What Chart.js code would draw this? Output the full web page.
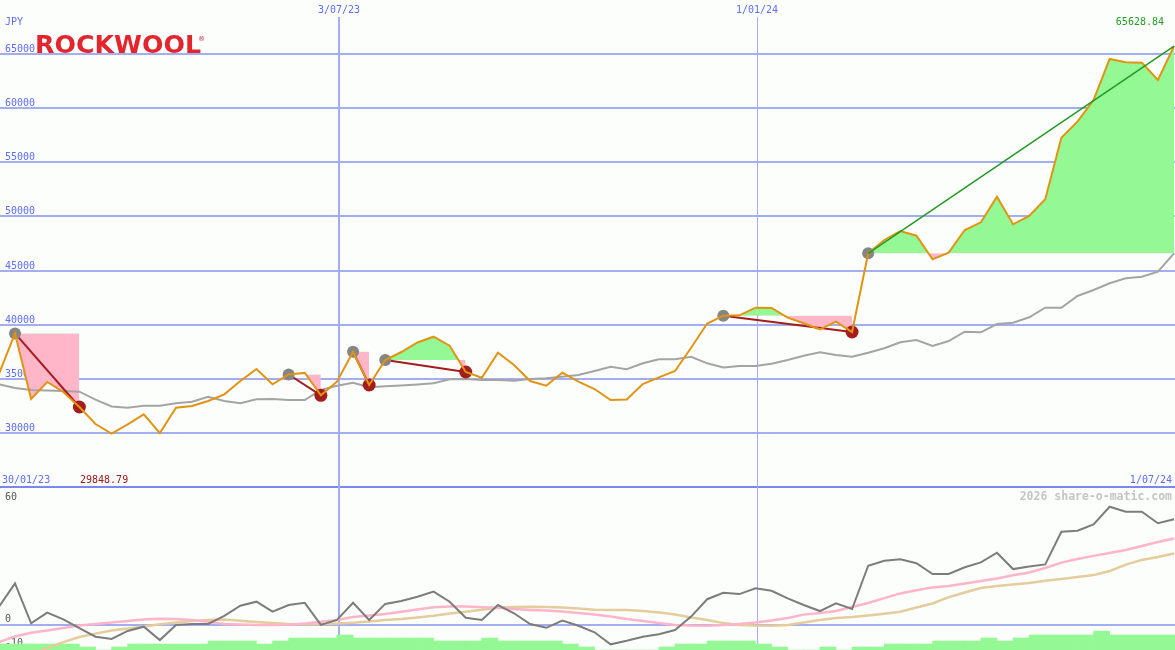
<!DOCTYPE html>
<html lang="en">
<head>
  <meta charset="UTF-8" />
  <title>ROCKWOOL weekly</title>
  <style>
    body { margin: 0; background: #fcfefc; }
    canvas { position: absolute; left: 0; background: #fcfefc; }
  </style>
</head>
<body>
  <canvas id="priceChart" width="1175" height="488" style="top:0"></canvas>
  <canvas id="oscChart" width="1175" height="162" style="top:488px"></canvas>

  <script src="https://cdn.jsdelivr.net/npm/chart.js"></script>
  <script>
    // weekly closes in JPY, week 0 = first bar
    const closes = [35352, 39100, 33043, 34613, 33690, 32304, 30734, 29848.79, 30700, 31630,
      29900, 32240, 32397, 32860, 33478, 34706, 35814, 34401, 35306, 35473,
      33385, 34641, 37412, 34336, 36646, 37384, 38262, 38797, 37966, 35537,
      35011, 37320, 36184, 34706, 34272, 35473, 34641, 33967, 32951, 32990,
      34429, 35048, 35629, 37781, 40016, 40737, 40774, 41476, 41450, 40552,
      40035, 39481, 40183, 39231, 46500, 47729, 48560, 48126, 45946, 46556,
      48652, 49364, 51728, 49179, 49945, 51488, 57177, 58655, 60659, 64446,
      64141, 64110, 62506, 65628.84];
    const average = [34401, 34059, 33875, 33828, 33782, 33718, 32979, 32351, 32240, 32424,
      32424, 32646, 32794, 33256, 32859, 32646, 33016, 33043, 32951, 32951,
      33875, 34272, 34549, 34124, 34216, 34290, 34383, 34494, 34863, 34891,
      34798, 34798, 34734, 34891, 34955, 35103, 35260, 35629, 36027, 35787,
      36341, 36710, 36710, 36950, 36341, 35953, 36091, 36091, 36304, 36645,
      37043, 37356, 37107, 36950, 37320, 37726, 38280, 38493, 37938, 38400,
      39259, 39204, 39970, 40090, 40589, 41476, 41476, 42556, 43110, 43730,
      44191, 44339, 44801, 46500];
    const momentum = [7.7, 18.2, 0.3, 5.1, 2.1, -1.9, -5.7, -6.7, -3.1, -1.2,
      -7.2, -0.4, 0, 0, 3.6, 8.2, 10.0, 5.5, 8.5, 9.5,
      -0.4, 1.8, 9.5, 1.8, 9.0, 10.3, 12.2, 14.5, 10.0, 2.8,
      1.8, 8.5, 4.8, 0, -1.7, 1.5, -0.8, -3.7, -9.1, -7.5,
      -5.7, -4.6, -2.7, 3.3, 11.1, 14.0, 13.4, 16.0, 14.9, 11.5,
      8.5, 5.8, 9.3, 6.7, 26.1, 28.3, 29.0, 27.2, 22.4, 22.4,
      25.4, 27.6, 31.9, 24.6, 25.7, 26.7, 41.3, 41.8, 44.6, 52.5,
      50.3, 50.3, 45.1, 46.9];
    const signalFast = [-8.1, -5.6, -3.9, -2.9, -1.8, -0.7, 0, 0.7, 1.3, 2.0,
      2.3, 2.2, 1.8, 1.0, 0, -0.2, -0.4, -0.4, -0.3, 0.2,
      1.0, 1.8, 3.1, 3.8, 4.5, 5.5, 6.5, 7.5, 7.8, 7.8,
      7.5, 7.3, 6.7, 6.3, 6.0, 5.6, 4.9, 4.3, 3.4, 2.2,
      1.3, 0.4, -0.4, -0.7, -0.8, -0.5, 0, 0.7, 1.6, 2.7,
      4.2, 4.9, 5.8, 7.6, 9.4, 11.6, 13.7, 15.1, 16.4, 17.0,
      18.1, 19.3, 20.4, 21.8, 23.1, 25.1, 27.5, 29.1, 30.5, 31.8,
      33.1, 34.9, 36.7, 38.3];
    const signalSlow = [-19.5, -16.5, -13.4, -10.7, -8.1, -5.8, -4.3, -2.9, -2.0, -1.1,
      -0.1, 0.7, 1.3, 1.8, 2.0, 1.5, 0.9, 0.4, 0, -0.1,
      -0.1, 0.2, 0.6, 1.1, 1.8, 2.2, 2.9, 3.7, 4.7, 5.5,
      6.4, 7.3, 7.6, 7.7, 7.6, 7.4, 6.9, 6.4, 6.3, 6.3,
      5.8, 5.1, 4.3, 2.9, 1.8, 0.4, -0.4, -0.7, -0.8, -0.4,
      0.7, 1.8, 2.7, 3.1, 3.8, 4.6, 5.5, 7.4, 9.2, 12.0,
      14.1, 16.1, 17.0, 17.7, 18.4, 19.4, 20.2, 21.0, 21.9, 23.7,
      26.6, 28.7, 30.0, 31.6];
    const volume = [2, 2, 2, 2, 2, 1, 0, 1, 2, 2,
      2, 2, 2, 3, 3, 3, 2, 3, 4, 4,
      4, 5, 4, 4, 4, 4, 4, 3, 3, 3,
      4, 3, 3, 3, 3, 2, 1, 0, 0, 0,
      0, 1, 2, 2, 3, 3, 3, 2, 1, 0,
      0, 1, 0, 1, 1, 2, 2, 2, 3, 3,
      3, 4, 3, 4, 5, 5, 5, 5, 6.3, 5,
      5, 5, 5, 5];

    const entryWeeks = [1, 18, 22, 24, 45, 54];
    const exitWeeks = [5, 20, 23, 29, 53];

    const priceTicks = [30000, 35000, 40000, 45000, 50000, 55000, 60000, 65000];
    const oscTicks = [60, 0, -10];
    const dateMarks = ['3/07/23', '1/01/24'];
    const dateMarkWeeks = [21.13, 47.12];
    const firstDate = '30/01/23';
    const lastDate = '1/07/24';
    const currency = 'JPY';
    const brand = 'ROCKWOOL';
    const credit = '2026 share-o-matic.com';

    const GRID = '#a3aef0', SEP = '#7b87ec', BLUE = '#5f6cf4';
    const UP = '#94f894', DOWN = '#ffb6c9';
    const MONO = '10px "DejaVu Sans Mono"';

    const pts = arr => arr.map((v, i) => ({ x: i, y: v }));
    const xScale = { type: 'linear', min: 0.068, max: 73.06, display: false, offset: false };
    const lastIdx = closes.length - 1;
    const lowClose = Math.min(...closes);

    const trades = entryWeeks.map((from, i) => ({
      from, to: i < exitWeeks.length ? exitWeeks[i] : lastIdx, open: i >= exitWeeks.length
    }));

    function dateLines(chart, top) {
      const { ctx, scales: { x }, height } = chart;
      ctx.fillStyle = GRID;
      dateMarkWeeks.forEach((w, i) => {
        const px = Math.round(x.getPixelForValue(w));
        if (i === 0) ctx.fillRect(px - 1, top, 2, height - top);
        else ctx.fillRect(px, top, 1, height - top);
      });
    }

    const pricePanel = {
      id: 'pricePanel',
      beforeDatasetsDraw(chart) {
        const { ctx, scales: { y }, width } = chart;
        ctx.save();
        ctx.fillStyle = GRID;
        priceTicks.forEach(v => ctx.fillRect(0, Math.round(y.getPixelForValue(v)), width, 2));
        ctx.fillStyle = SEP;
        ctx.fillRect(0, Math.round(y.getPixelForValue(25000)), width, 2);
        dateLines(chart, 17);
        ctx.font = MONO;
        ctx.fillStyle = BLUE;
        ctx.textAlign = 'left';
        ctx.fillText(currency, 5, 25);
        priceTicks.forEach(v => ctx.fillText(String(v), 5, Math.round(y.getPixelForValue(v)) - 1));
        ctx.restore();
      },
      afterDatasetsDraw(chart) {
        const { ctx, scales: { x } } = chart;
        ctx.save();
        ctx.font = MONO;
        ctx.fillStyle = BLUE;
        ctx.textAlign = 'center';
        dateMarks.forEach((d, i) => ctx.fillText(d, Math.round(x.getPixelForValue(dateMarkWeeks[i])), 13));
        ctx.textAlign = 'left';
        ctx.fillText(firstDate, 2, 483);
        ctx.textAlign = 'right';
        ctx.fillText(lastDate, 1172, 483);
        ctx.fillStyle = '#229922';
        ctx.fillText(closes[lastIdx].toFixed(2), 1164, 25);
        ctx.textAlign = 'left';
        ctx.fillStyle = '#a01818';
        ctx.fillText(lowClose.toFixed(2), 80, 483);

        // logo
        ctx.fillStyle = '#e3262e';
        ctx.font = 'bold 25px "DejaVu Sans"';
        const w = ctx.measureText(brand).width;
        ctx.translate(35, 53);
        ctx.scale(166 / w, 1);
        ctx.fillText(brand, 0, 0);
        ctx.setTransform(1, 0, 0, 1, 0, 0);
        ctx.font = '7px "DejaVu Sans"';
        ctx.fillText('®', 198, 41);
        ctx.restore();
      }
    };

    const oscPanel = {
      id: 'oscPanel',
      beforeDatasetsDraw(chart) {
        const { ctx, scales: { y }, width } = chart;
        ctx.save();
        ctx.fillStyle = GRID;
        ctx.fillRect(0, Math.round(y.getPixelForValue(0)), width, 2);
        dateLines(chart, 0);
        ctx.font = MONO;
        ctx.fillStyle = '#555555';
        ctx.textAlign = 'left';
        const base = [10, -2, 0];
        oscTicks.forEach((v, i) => ctx.fillText(String(v), 5, Math.round(y.getPixelForValue(v)) + base[i]));
        ctx.font = 'bold 11.5px "DejaVu Sans Mono"';
        ctx.fillStyle = '#c4c4c4';
        ctx.textAlign = 'right';
        ctx.fillText(credit, 1172, 12);
        ctx.restore();
      }
    };

    const common = {
      responsive: false,
      animation: false,
      devicePixelRatio: 1,
      events: [],
      layout: { padding: 0, autoPadding: false },
      plugins: { legend: { display: false }, tooltip: { enabled: false } }
    };

    const priceSets = [
      ...trades.map(t => ({
        data: pts(closes).slice(t.from, t.to + 1),
        borderColor: 'rgba(0,0,0,0)', borderWidth: 0, pointRadius: 0,
        fill: { target: { value: closes[t.from] }, above: UP, below: DOWN },
        order: 10
      })),
      { data: pts(average), borderColor: '#a4a4a4', borderWidth: 2, pointRadius: 0, fill: false, order: 5 },
      ...trades.map(t => ({
        data: [{ x: t.from, y: closes[t.from] }, { x: t.to, y: closes[t.to] }],
        borderColor: t.open ? '#229922' : '#a51c1c',
        borderWidth: t.open ? 1.5 : 2, pointRadius: 0, fill: false,
        order: t.open ? 0 : 4
      })),
      { data: entryWeeks.map(w => ({ x: w, y: closes[w] })), showLine: false, fill: false,
        pointRadius: 6, pointBackgroundColor: '#858585', pointBorderWidth: 0, order: 3 },
      { data: exitWeeks.map(w => ({ x: w, y: closes[w] })), showLine: false, fill: false,
        pointRadius: 6.5, pointBackgroundColor: '#a51c1c', pointBorderWidth: 0, order: 3 },
      { data: pts(closes), borderColor: '#e09412', borderWidth: 2, pointRadius: 0, fill: false, order: 1 }
    ];

    new Chart(document.getElementById('priceChart'), {
      type: 'line',
      data: { datasets: priceSets },
      options: {
        ...common,
        scales: { x: xScale, y: { min: 24824, max: 69895, display: false } }
      },
      plugins: [pricePanel]
    });

    new Chart(document.getElementById('oscChart'), {
      type: 'line',
      data: {
        datasets: [
          { data: pts(momentum), borderColor: '#7c7c7c', borderWidth: 2, pointRadius: 0, fill: false, order: 0 },
          { data: pts(signalFast), borderColor: '#ffb4c8', borderWidth: 2.5, pointRadius: 0, fill: false, order: 1 },
          { data: pts(signalSlow), borderColor: '#e4cc9c', borderWidth: 2.5, pointRadius: 0, fill: false, order: 2 },
          { type: 'bar', data: volume.map((v, i) => ({ x: i + 0.5, y: v })), backgroundColor: UP,
            yAxisID: 'yv', barPercentage: 1, categoryPercentage: 1, order: 3 }
        ]
      },
      options: {
        ...common,
        scales: {
          x: xScale,
          y: { min: -11.64, max: 60.9, display: false },
          yv: { min: 0, max: 54, display: false }
        }
      },
      plugins: [oscPanel]
    });
  </script>
</body>
</html>
